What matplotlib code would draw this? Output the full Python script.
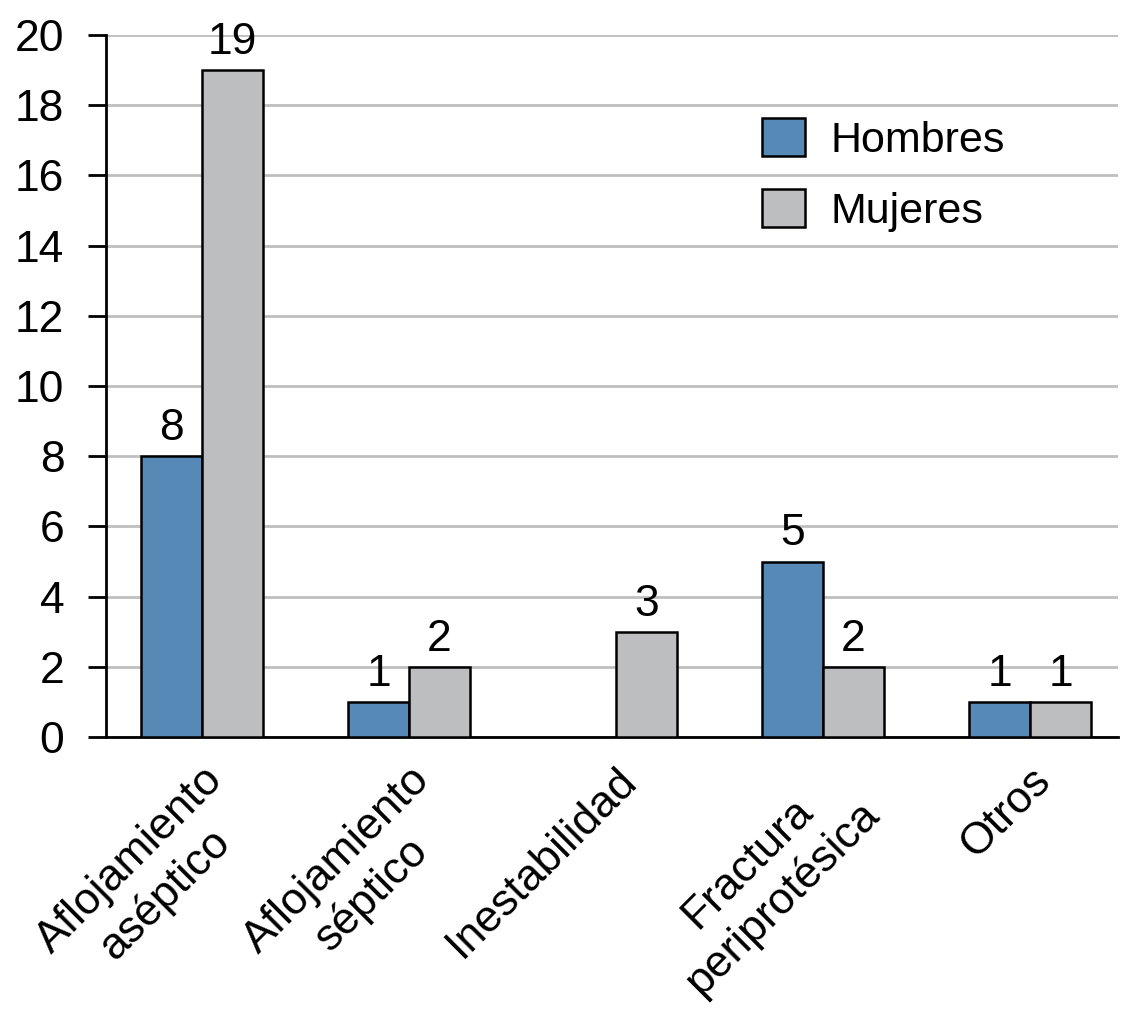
import matplotlib
matplotlib.use("Agg")
import matplotlib.pyplot as plt
import numpy as np

categories = ["Aflojamiento\naséptico", "Aflojamiento\nséptico", "Inestabilidad",
              "Fractura\nperiprotésica", "Otros"]
hombres = [8, 1, 0, 5, 1]
mujeres = [19, 2, 3, 2, 1]
series_names = ["Hombres", "Mujeres"]
yticks = [0, 2, 4, 6, 8, 10, 12, 14, 16, 18, 20]

plt.rcParams['font.family'] = ['Liberation Sans', 'DejaVu Sans']

fig = plt.figure(figsize=(11.29, 10.24), dpi=100)
ax = fig.add_axes([106/1129, 1-737/1024, (1118-106)/1129, (737-35)/1024])

x = np.arange(len(categories))
w = 0.295
blue = "#5689B6"
gray = "#BDBEC0"
b1 = ax.bar(x - w/2, hombres, w, color=blue, edgecolor="black", linewidth=1.8,
            label=series_names[0], zorder=3)
b2 = ax.bar(x + w/2, mujeres, w, color=gray, edgecolor="black", linewidth=1.8,
            label=series_names[1], zorder=3)

for bars, vals in ((b1, hombres), (b2, mujeres)):
    for r, v in zip(bars, vals):
        if v > 0:
            ax.text(r.get_x() + r.get_width()/2, v + 0.2, str(v), ha="center",
                    va="bottom", fontsize=32, zorder=4)
        else:
            r.set_visible(False)

ax.set_xlim(-0.464, 4.425)
ax.set_ylim(0, 20)
ax.set_yticks(yticks)
ax.yaxis.grid(True, color="#BFBFBF", linewidth=2)
ax.set_axisbelow(True)
ax.tick_params(axis="y", labelsize=32, length=13, width=2, direction="out", pad=17)
ax.tick_params(axis="x", length=0, pad=16)
ax.set_xticks(x)
ax.set_xticklabels(categories, rotation=45, ha="right", rotation_mode="anchor",
                   fontsize=32, multialignment="center")
for s in ["top", "right"]:
    ax.spines[s].set_visible(False)
ax.spines["left"].set_linewidth(2)
ax.spines["bottom"].set_linewidth(2)

leg = ax.legend(loc="upper left", bbox_to_anchor=(0.648, 0.882), frameon=False,
                fontsize=31, handlelength=1.0, handleheight=1.0, handletextpad=0.6,
                labelspacing=0.65, borderaxespad=0, borderpad=0)

fig.savefig("out.png", dpi=100)
